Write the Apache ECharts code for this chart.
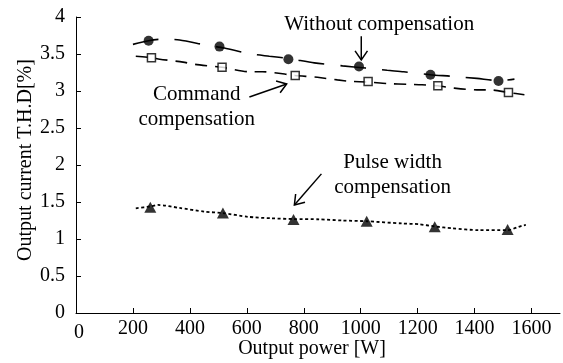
<!DOCTYPE html>
<html>
<head>
<meta charset="utf-8">
<script src="https://cdn.jsdelivr.net/npm/echarts@6/dist/echarts.min.js"></script>
<style>
  html, body { margin: 0; padding: 0; background: #fff; }
  #chart { width: 563px; height: 363px; }
</style>
</head>
<body>
<div id="chart"></div>
<script>
// Measured points: output power [W] and current THD [%]
const withoutPower = [255, 504, 746, 994, 1245, 1484];
const withoutTHD   = [3.68, 3.60, 3.43, 3.33, 3.22, 3.135];
const commandPower = [265, 513, 770, 1026, 1271, 1519];
const commandTHD   = [3.45, 3.32, 3.21, 3.13, 3.07, 2.98];
const pulsePower   = [261, 516, 764, 1021, 1260, 1516];
const pulseTHD     = [1.43, 1.35, 1.265, 1.24, 1.165, 1.13];

// Approximation curves through each set of measurements: [power, THD]
const withoutTrend = [[200,3.63],[255,3.68],[300,3.70],[364,3.69],[457,3.62],[521,3.58],[615,3.50],[679,3.47],[746,3.44],[837,3.38],[936,3.34],[1017,3.31],[1093,3.28],[1151,3.26],[1245,3.22],[1315,3.20],[1408,3.17],[1484,3.14],[1540,3.16]];
const commandTrend = [[210,3.47],[265,3.45],[294,3.43],[376,3.39],[417,3.36],[513,3.32],[609,3.26],[655,3.26],[770,3.21],[848,3.185],[918,3.15],[965,3.13],[1026,3.12],[1093,3.10],[1169,3.09],[1215,3.085],[1271,3.07],[1326,3.04],[1408,3.015],[1455,3.015],[1519,2.98],[1575,2.95]];
const pulseTrend   = [[210,1.415],[261,1.44],[288,1.46],[364,1.42],[451,1.37],[516,1.35],[603,1.30],[685,1.28],[764,1.27],[854,1.266],[935,1.25],[1021,1.24],[1145,1.21],[1204,1.20],[1260,1.17],[1320,1.145],[1414,1.12],[1516,1.12],[1566,1.18],[1580,1.19]];

const xTicks  = [200, 400, 600, 800, 1000, 1200, 1400, 1600];
const xLabels = [0, 200, 400, 600, 800, 1000, 1200, 1400, 1600];

const FONT = '"Liberation Serif", "Times New Roman", serif';
const zip = (xs, ys) => xs.map((x, i) => [x, ys[i]]);

const chart = echarts.init(document.getElementById('chart'), null, { renderer: 'canvas' });

const option = {
  animation: false,
  backgroundColor: '#fff',
  textStyle: { fontFamily: FONT, color: '#000' },
  grid: { left: 76, right: 3, top: 17, bottom: 50, containLabel: false, outerBoundsMode: 'none' },
  xAxis: {
    type: 'value', min: 0, max: 1700, interval: 200,
    name: 'Output power [W]', nameLocation: 'middle', nameGap: 26, nameMoveOverlap: false,
    nameTextStyle: { fontFamily: FONT, fontSize: 20, color: '#000', padding: [0, 12, 0, 0] },
    axisLine: { lineStyle: { color: '#000', width: 1 } },
    axisTick: { inside: true, length: 5, lineStyle: { color: '#000' }, customValues: xTicks },
    axisLabel: {
      customValues: xLabels, margin: 6,
      fontFamily: FONT, fontSize: 20, color: '#000',
      formatter: v => v === 0 ? '{z|0}' : String(v),
      rich: { z: { fontFamily: FONT, fontSize: 20, color: '#000', padding: [4, 0, 0, 6] } }
    },
    splitLine: { show: false }
  },
  yAxis: {
    type: 'value', min: 0, max: 4, interval: 0.5,
    name: 'Output current T.H.D[%]', nameLocation: 'middle', nameGap: 40, nameRotate: 90, nameMoveOverlap: false,
    nameTextStyle: { fontFamily: FONT, fontSize: 20, color: '#000', padding: [0, 0, 0, 10] },
    axisLine: { show: true, lineStyle: { color: '#000', width: 1 } },
    axisTick: { show: true, inside: true, length: 5, lineStyle: { color: '#000' } },
    axisLabel: { margin: 11, fontFamily: FONT, fontSize: 20, color: '#000' },
    splitLine: { show: false }
  },
  series: [
    {
      type: 'line', data: withoutTrend, smooth: 0.25, symbol: 'none', z: 2,
      lineStyle: { color: '#000', width: 1.6, type: [26, 16] }
    },
    {
      type: 'line', data: commandTrend, smooth: 0.25, symbol: 'none', z: 2,
      lineStyle: { color: '#000', width: 1.6, type: [12, 8] }
    },
    {
      type: 'line', data: pulseTrend, smooth: 0.25, symbol: 'none', z: 2,
      lineStyle: { color: '#000', width: 1.8, type: [3, 2.5] }
    },
    {
      name: 'Without compensation', type: 'scatter', data: zip(withoutPower, withoutTHD), z: 5,
      symbol: 'circle', symbolSize: 10, itemStyle: { color: '#000' }
    },
    {
      name: 'Command compensation', type: 'scatter', data: zip(commandPower, commandTHD), z: 5,
      symbol: 'rect', symbolSize: 8, itemStyle: { color: '#fff', borderColor: '#000', borderWidth: 1.5 }
    },
    {
      name: 'Pulse width compensation', type: 'scatter', data: zip(pulsePower, pulseTHD), z: 5,
      symbol: 'triangle', symbolSize: [12, 11], itemStyle: { color: '#000' }
    }
  ]
};

chart.setOption(option);

// Callout texts and arrows, anchored in data coordinates
const toPx = p => chart.convertToPixel({ gridIndex: 0 }, p);

function arrow(tail, head) {
  const a = toPx(tail), b = toPx(head);
  const ang = Math.atan2(b[1] - a[1], b[0] - a[0]);
  const len = 11, spread = 0.6;
  const l = [b[0] - len * Math.cos(ang - spread), b[1] - len * Math.sin(ang - spread)];
  const r = [b[0] - len * Math.cos(ang + spread), b[1] - len * Math.sin(ang + spread)];
  return [
    { type: 'line', shape: { x1: a[0], y1: a[1], x2: b[0], y2: b[1] }, style: { stroke: '#000', lineWidth: 1.5 }, z: 10 },
    { type: 'polyline', shape: { points: [l, b, r] }, style: { stroke: '#000', fill: null, lineWidth: 1.5 }, z: 10 }
  ];
}

function label(text, at) {
  const p = toPx(at);
  return {
    type: 'text', x: p[0], y: p[1], z: 10,
    style: { text, fontFamily: FONT, fontSize: 21, fill: '#000', align: 'center', verticalAlign: 'middle' }
  };
}

chart.setOption({
  graphic: [
    label('Without compensation', [1065, 3.905]),
    ...arrow([1002, 3.74], [1002, 3.42]),
    label('Command', [424, 2.95]),
    label('compensation', [424, 2.61]),
    ...arrow([609, 2.92], [740, 3.095]),
    label('Pulse width', [1112, 2.04]),
    label('compensation', [1112, 1.70]),
    ...arrow([862, 1.88], [767, 1.46])
  ]
});
</script>
</body>
</html>
